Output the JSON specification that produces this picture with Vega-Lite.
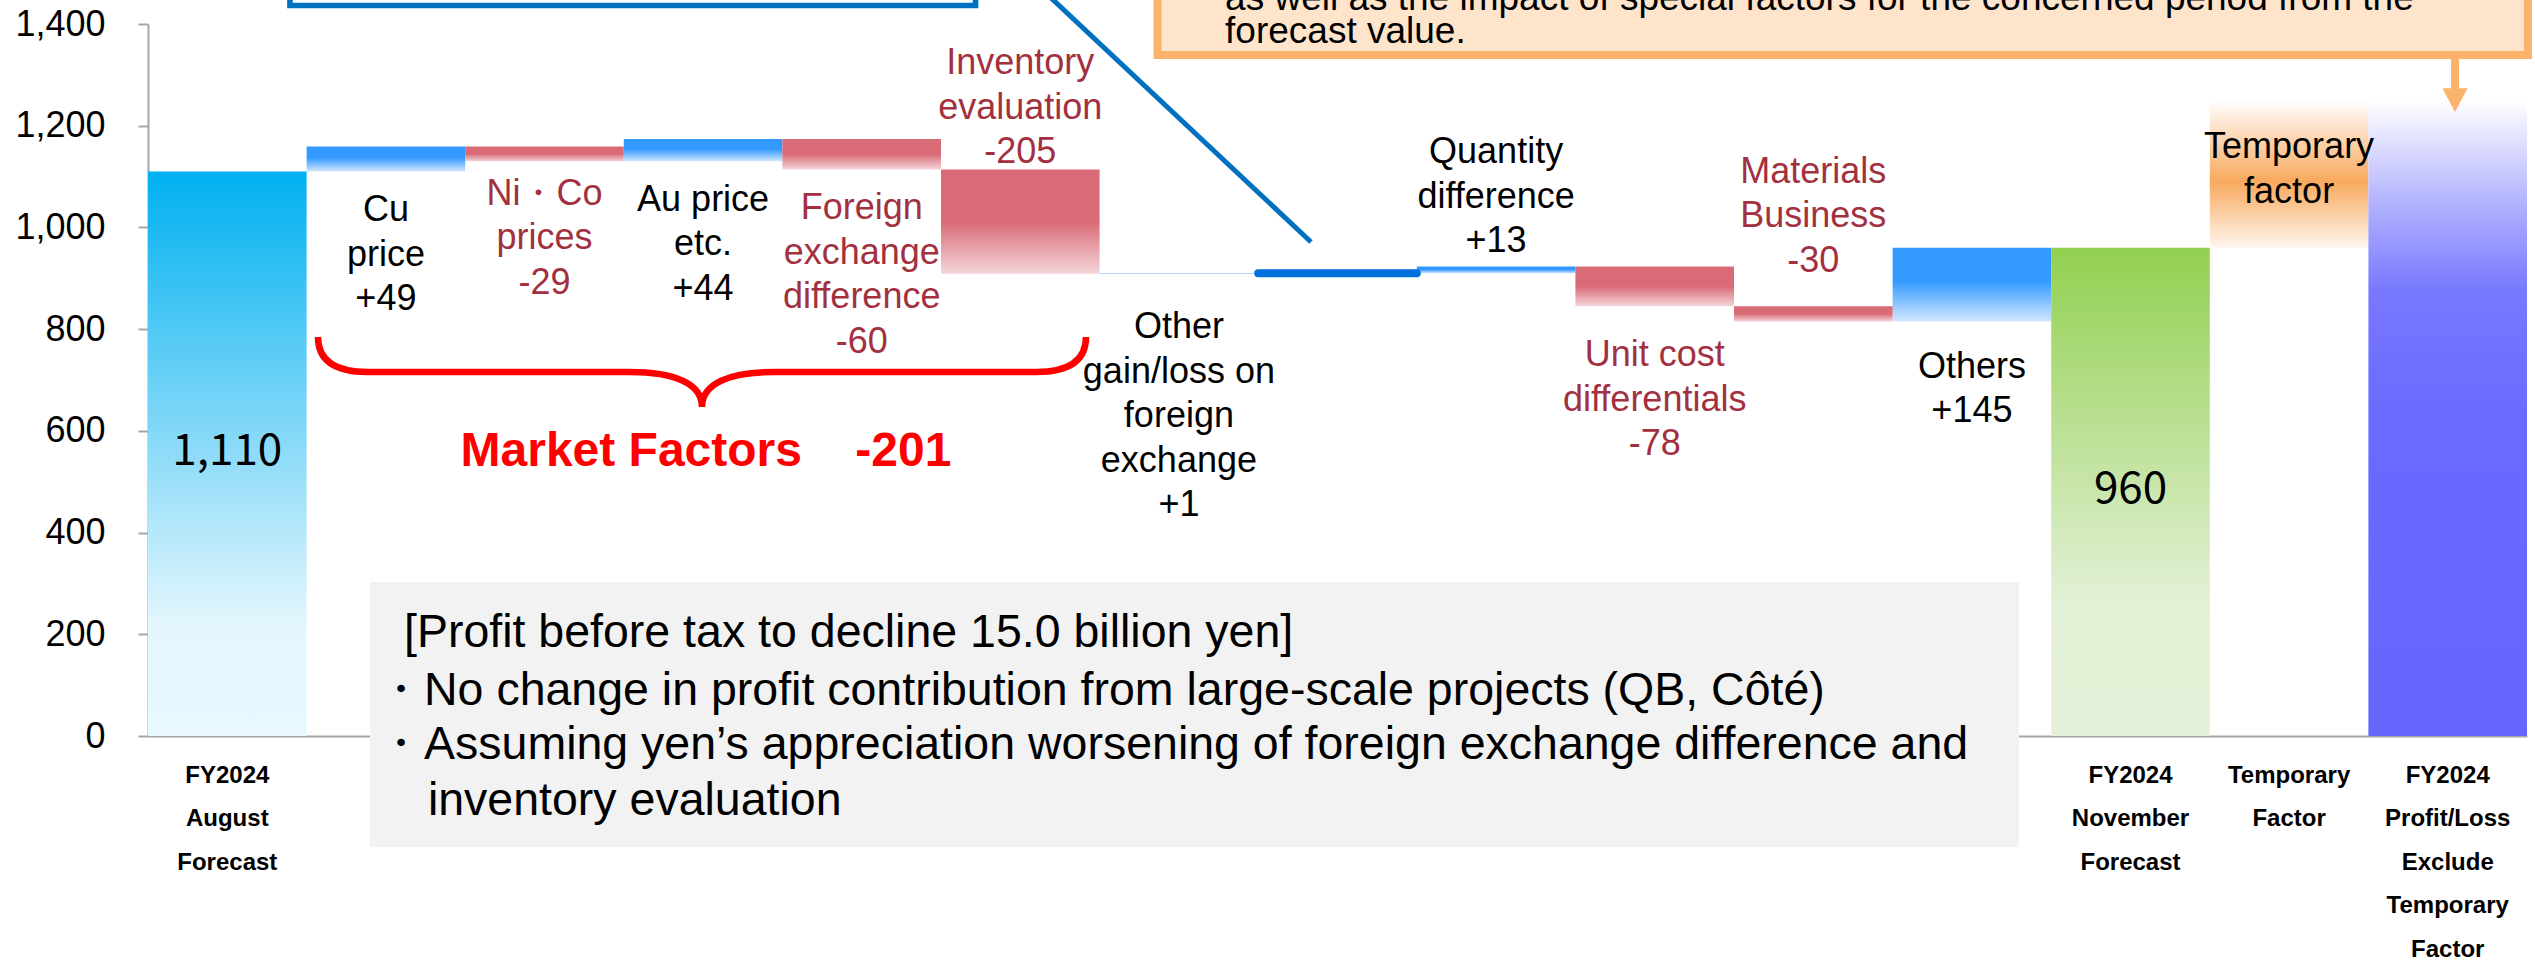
{
  "$schema": "https://vega.github.io/schema/vega-lite/v6.json",
  "width": 2379,
  "height": 712,
  "autosize": {"type": "none"},
  "padding": {"left": 148, "top": 24, "right": 8, "bottom": 230},
  "background": "#FFFFFF",
  "config": {
    "view": {"stroke": null},
    "font": "Liberation Sans",
    "axisY": {"labelFontSize": 36, "labelColor": "#000000", "labelFont": "Liberation Sans", "labelPadding": 33, "tickSize": 10, "tickColor": "#A6A6A6", "tickWidth": 2, "domainColor": "#A6A6A6", "domainWidth": 2, "grid": false, "tickCount": 7}
  },
  "datasets": {
    "bars": [
      {"item": "FY2024 August Forecast", "start": 0, "end": 1110, "kind": "start"},
      {"item": "Cu price", "start": 1110, "end": 1159, "kind": "up"},
      {"item": "Ni・Co prices", "start": 1159, "end": 1130, "kind": "down"},
      {"item": "Au price etc.", "start": 1130, "end": 1174, "kind": "up"},
      {"item": "Foreign exchange difference", "start": 1174, "end": 1114, "kind": "down"},
      {"item": "Inventory evaluation", "start": 1114, "end": 909, "kind": "down"},
      {"item": "Other gain/loss on foreign exchange", "start": 909, "end": 910, "kind": "up"},
      {"item": "Large-scale projects", "start": 910, "end": 910, "kind": "zero"},
      {"item": "Quantity difference", "start": 910, "end": 923, "kind": "up"},
      {"item": "Unit cost differentials", "start": 923, "end": 845, "kind": "down"},
      {"item": "Materials Business", "start": 845, "end": 815, "kind": "down"},
      {"item": "Others", "start": 815, "end": 960, "kind": "up"},
      {"item": "FY2024 November Forecast", "start": 0, "end": 960, "kind": "end"},
      {"item": "Temporary Factor", "start": 960, "end": 1250, "kind": "temp"},
      {"item": "FY2024 Profit/Loss Exclude Temporary Factor", "start": 0, "end": 1250, "kind": "final"}
    ],
    "labels": [
      {"item": "FY2024 August Forecast", "y": 558, "text": "1,110", "tone": "big"},
      {"item": "Cu price", "y": 1034, "text": "Cu\nprice\n+49", "tone": "pos"},
      {"item": "Ni・Co prices", "y": 1066, "text": "Ni・Co\nprices\n-29", "tone": "neg"},
      {"item": "Au price etc.", "y": 1054, "text": "Au price\netc.\n+44", "tone": "pos"},
      {"item": "Foreign exchange difference", "y": 1038, "text": "Foreign\nexchange\ndifference\n-60", "tone": "neg"},
      {"item": "Inventory evaluation", "y": 1323, "text": "Inventory\nevaluation\n-205", "tone": "neg"},
      {"item": "Other gain/loss on foreign exchange", "y": 804, "text": "Other\ngain/loss on\nforeign\nexchange\n+1", "tone": "pos"},
      {"item": "Quantity difference", "y": 1148, "text": "Quantity\ndifference\n+13", "tone": "pos"},
      {"item": "Unit cost differentials", "y": 749, "text": "Unit cost\ndifferentials\n-78", "tone": "neg"},
      {"item": "Materials Business", "y": 1109, "text": "Materials\nBusiness\n-30", "tone": "neg"},
      {"item": "Others", "y": 726, "text": "Others\n+145", "tone": "pos"},
      {"item": "FY2024 November Forecast", "y": 484, "text": "960", "tone": "big"},
      {"item": "Temporary Factor", "y": 1158, "text": "Temporary\nfactor", "tone": "pos"}
    ],
    "notes": [
      {"role": "greybox", "ax": 1.4, "ax2": 11.797, "y": 302.8, "y2": -218.3},
      {"role": "boxtext", "ax": 1.614, "y": 202.5, "text": "[Profit before tax to decline 15.0 billion yen]"},
      {"role": "boxtext", "ax": 1.444, "y": 89.3, "text": "・No change in profit contribution from large-scale projects (QB, Côté)"},
      {"role": "boxtext", "ax": 1.444, "y": -17.7, "text": "・Assuming yen’s appreciation worsening of foreign exchange difference and"},
      {"role": "boxtext", "ax": 1.765, "y": -127.2, "text": "inventory evaluation"},
      {"role": "bluebox", "ax": 0.895, "ax2": 5.218, "y": 1436.4, "y2": 1800},
      {"role": "blueline", "ax": 5.372, "ax2": 7.333, "y": 1545.5, "y2": 971.3},
      {"role": "orangebox", "ax": 6.365, "ax2": 15.006, "y": 1339, "y2": 1800},
      {"role": "orangetext", "ax": 6.791, "y": 1427.5, "text": "as well as the impact of special factors for the concerned period from the"},
      {"role": "orangetext", "ax": 6.791, "y": 1362.6, "text": "forecast value."},
      {"role": "arrowshaft", "ax": 14.546, "y": 1339, "y2": 1266.3},
      {"role": "arrowhead", "ax": 14.546, "y": 1251.5},
      {"role": "brace", "ax": 3.493, "y": 715.7},
      {"role": "market", "ax": 3.518, "y": 558.4, "text": "Market Factors \u00a0\u00a0\u00a0-201"}
    ]
  },
  "layer": [
    {
      "encoding": {
        "x": {
          "field": "item", "type": "nominal", "sort": null,
          "scale": {"domain": ["FY2024 August Forecast", "Cu price", "Ni・Co prices", "Au price etc.", "Foreign exchange difference", "Inventory evaluation", "Other gain/loss on foreign exchange", "Large-scale projects", "Quantity difference", "Unit cost differentials", "Materials Business", "Others", "FY2024 November Forecast", "Temporary Factor", "FY2024 Profit/Loss Exclude Temporary Factor"], "paddingInner": 0, "paddingOuter": 0},
          "axis": {"title": null, "ticks": false, "domainColor": "#A6A6A6", "domainWidth": 2, "labelAngle": 0, "labelFont": "Liberation Sans", "labelFontSize": 24, "labelFontWeight": "bold", "labelColor": "#000000", "labelLineHeight": 43.5, "labelPadding": 27, "labelLimit": 0, "labelOverlap": false, "labelBound": false, "labelExpr": "indexof(datum.value, 'FY2024') == 0 || datum.value == 'Temporary Factor' ? split(datum.value, ' ') : ''"}
        }
      },
      "layer": [
        {
          "data": {"name": "bars"},
          "transform": [{"filter": "datum.kind == 'start'"}],
          "mark": {"type": "bar", "fill": {"gradient": "linear", "x1": 0, "y1": 0, "x2": 0, "y2": 1, "stops": [{"offset": 0, "color": "#00B0F0"}, {"offset": 0.8, "color": "#E3F6FD"}, {"offset": 1, "color": "#E8F8FE"}]}},
          "encoding": {"y": {"field": "start", "type": "quantitative", "scale": {"domain": [0, 1400], "nice": false}, "title": null}, "y2": {"field": "end"}}
        },
        {
          "data": {"name": "bars"},
          "transform": [{"filter": "datum.kind == 'up'"}],
          "mark": {"type": "bar", "fill": {"gradient": "linear", "x1": 0, "y1": 0, "x2": 0, "y2": 1, "stops": [{"offset": 0, "color": "#3399FF"}, {"offset": 0.45, "color": "#3399FF"}, {"offset": 1, "color": "#D2E8FF"}]}},
          "encoding": {"y": {"field": "start", "type": "quantitative", "scale": {"domain": [0, 1400], "nice": false}, "title": null}, "y2": {"field": "end"}}
        },
        {
          "data": {"name": "bars"},
          "transform": [{"filter": "datum.kind == 'down'"}],
          "mark": {"type": "bar", "fill": {"gradient": "linear", "x1": 0, "y1": 0, "x2": 0, "y2": 1, "stops": [{"offset": 0, "color": "#D96B76"}, {"offset": 0.5, "color": "#D96B76"}, {"offset": 1, "color": "#F5D5DA"}]}},
          "encoding": {"y": {"field": "start", "type": "quantitative", "scale": {"domain": [0, 1400], "nice": false}, "title": null}, "y2": {"field": "end"}}
        },
        {
          "data": {"name": "bars"},
          "transform": [{"filter": "datum.kind == 'end'"}],
          "mark": {"type": "bar", "fill": {"gradient": "linear", "x1": 0, "y1": 0, "x2": 0, "y2": 1, "stops": [{"offset": 0, "color": "#92D050"}, {"offset": 0.72, "color": "#E2F0D5"}, {"offset": 1, "color": "#E4F1D8"}]}},
          "encoding": {"y": {"field": "start", "type": "quantitative", "scale": {"domain": [0, 1400], "nice": false}, "title": null}, "y2": {"field": "end"}}
        },
        {
          "data": {"name": "bars"},
          "transform": [{"filter": "datum.kind == 'temp'"}],
          "mark": {"type": "bar", "fill": {"gradient": "linear", "x1": 0, "y1": 0, "x2": 0, "y2": 1, "stops": [{"offset": 0, "color": "#FFFFFF"}, {"offset": 0.55, "color": "#F8A95E"}, {"offset": 1, "color": "#FFF6EE"}]}},
          "encoding": {"y": {"field": "start", "type": "quantitative", "scale": {"domain": [0, 1400], "nice": false}, "title": null}, "y2": {"field": "end"}}
        },
        {
          "data": {"name": "bars"},
          "transform": [{"filter": "datum.kind == 'final'"}],
          "mark": {"type": "bar", "fill": {"gradient": "linear", "x1": 0, "y1": 0, "x2": 0, "y2": 1, "stops": [{"offset": 0, "color": "#FFFFFF"}, {"offset": 0.16, "color": "#B3B3FF"}, {"offset": 0.3, "color": "#7878FF"}, {"offset": 0.5, "color": "#6A6AFF"}, {"offset": 1, "color": "#6666FF"}]}},
          "encoding": {"y": {"field": "start", "type": "quantitative", "scale": {"domain": [0, 1400], "nice": false}, "title": null}, "y2": {"field": "end"}}
        },
        {
          "data": {"name": "bars"},
          "transform": [{"filter": "datum.kind == 'zero'"}],
          "mark": {"type": "bar", "fill": "#0070DD", "stroke": "#0070DD", "strokeWidth": 8, "strokeJoin": "round"},
          "encoding": {"y": {"field": "start", "type": "quantitative", "scale": {"domain": [0, 1400], "nice": false}, "title": null}, "y2": {"field": "end"}}
        },
        {
          "data": {"name": "labels"},
          "transform": [{"filter": "datum.tone != 'big'"}],
          "mark": {"type": "text", "font": "Liberation Sans", "fontSize": 36, "lineBreak": "\n", "lineHeight": 44.5, "align": "center", "baseline": "middle"},
          "encoding": {
            "y": {"field": "y", "type": "quantitative", "scale": {"domain": [0, 1400], "nice": false}, "title": null},
            "text": {"field": "text"},
            "color": {"field": "tone", "type": "nominal", "scale": {"domain": ["pos", "neg"], "range": ["#000000", "#A3303F"]}, "legend": null}
          }
        },
        {
          "data": {"name": "labels"},
          "transform": [{"filter": "datum.tone == 'big'"}],
          "mark": {"type": "text", "font": "Noto Sans CJK JP", "fontSize": 44, "align": "center", "baseline": "middle", "color": "#000000"},
          "encoding": {
            "y": {"field": "y", "type": "quantitative", "scale": {"domain": [0, 1400], "nice": false}, "title": null},
            "text": {"field": "text"}
          }
        }
      ]
    },
    {
      "data": {"name": "notes"},
      "encoding": {"x": {"field": "ax", "type": "quantitative", "scale": {"domain": [0, 15], "nice": false, "zero": false}, "axis": null}},
      "layer": [
        {
          "transform": [{"filter": "datum.role == 'greybox'"}],
          "mark": {"type": "rect", "fill": "#F2F2F2"},
          "encoding": {"x2": {"field": "ax2"}, "y": {"field": "y", "type": "quantitative", "scale": {"domain": [0, 1400], "nice": false}, "title": null}, "y2": {"field": "y2"}}
        },
        {
          "transform": [{"filter": "datum.role == 'boxtext'"}],
          "mark": {"type": "text", "font": "Liberation Sans", "fontSize": 46.5, "align": "left", "baseline": "middle", "color": "#000000"},
          "encoding": {"y": {"field": "y", "type": "quantitative", "scale": {"domain": [0, 1400], "nice": false}, "title": null}, "text": {"field": "text"}}
        },
        {
          "transform": [{"filter": "datum.role == 'bluebox'"}],
          "mark": {"type": "rect", "fill": "#FFFFFF", "stroke": "#0070C0", "strokeWidth": 5.6},
          "encoding": {"x2": {"field": "ax2"}, "y": {"field": "y", "type": "quantitative", "scale": {"domain": [0, 1400], "nice": false}, "title": null}, "y2": {"field": "y2"}}
        },
        {
          "transform": [{"filter": "datum.role == 'blueline'"}],
          "mark": {"type": "rule", "stroke": "#0070C0", "strokeWidth": 5},
          "encoding": {"x2": {"field": "ax2"}, "y": {"field": "y", "type": "quantitative", "scale": {"domain": [0, 1400], "nice": false}, "title": null}, "y2": {"field": "y2"}}
        },
        {
          "transform": [{"filter": "datum.role == 'orangebox'"}],
          "mark": {"type": "rect", "fill": "#FDE4CB", "stroke": "#FBB26A", "strokeWidth": 8},
          "encoding": {"x2": {"field": "ax2"}, "y": {"field": "y", "type": "quantitative", "scale": {"domain": [0, 1400], "nice": false}, "title": null}, "y2": {"field": "y2"}}
        },
        {
          "transform": [{"filter": "datum.role == 'orangetext'"}],
          "mark": {"type": "text", "font": "Liberation Sans", "fontSize": 37, "align": "left", "baseline": "alphabetic", "color": "#000000"},
          "encoding": {"y": {"field": "y", "type": "quantitative", "scale": {"domain": [0, 1400], "nice": false}, "title": null}, "text": {"field": "text"}}
        },
        {
          "transform": [{"filter": "datum.role == 'arrowshaft'"}],
          "mark": {"type": "rule", "stroke": "#FBB26A", "strokeWidth": 8},
          "encoding": {"y": {"field": "y", "type": "quantitative", "scale": {"domain": [0, 1400], "nice": false}, "title": null}, "y2": {"field": "y2"}}
        },
        {
          "transform": [{"filter": "datum.role == 'arrowhead'"}],
          "mark": {"type": "point", "shape": "M -1 -0.9 L 1 -0.9 L 0 1 Z", "size": 625, "filled": true, "color": "#FBB26A", "opacity": 1},
          "encoding": {"y": {"field": "y", "type": "quantitative", "scale": {"domain": [0, 1400], "nice": false}, "title": null}}
        },
        {
          "transform": [{"filter": "datum.role == 'brace'"}],
          "mark": {"type": "point", "shape": "M -1 -0.0911 Q -1 0 -0.87 0 L -0.19 0 C -0.07 0 0 0.03 0 0.0911 C 0 0.03 0.07 0 0.19 0 L 0.87 0 Q 1 0 1 -0.0911", "size": 589824, "filled": false, "color": "#FF0000", "strokeWidth": 6.5, "opacity": 1},
          "encoding": {"y": {"field": "y", "type": "quantitative", "scale": {"domain": [0, 1400], "nice": false}, "title": null}}
        },
        {
          "transform": [{"filter": "datum.role == 'market'"}],
          "mark": {"type": "text", "font": "Liberation Sans", "fontSize": 48, "fontWeight": "bold", "align": "center", "baseline": "middle", "color": "#FF0000"},
          "encoding": {"y": {"field": "y", "type": "quantitative", "scale": {"domain": [0, 1400], "nice": false}, "title": null}, "text": {"field": "text"}}
        }
      ]
    }
  ],
  "resolve": {"scale": {"x": "independent"}}
}
